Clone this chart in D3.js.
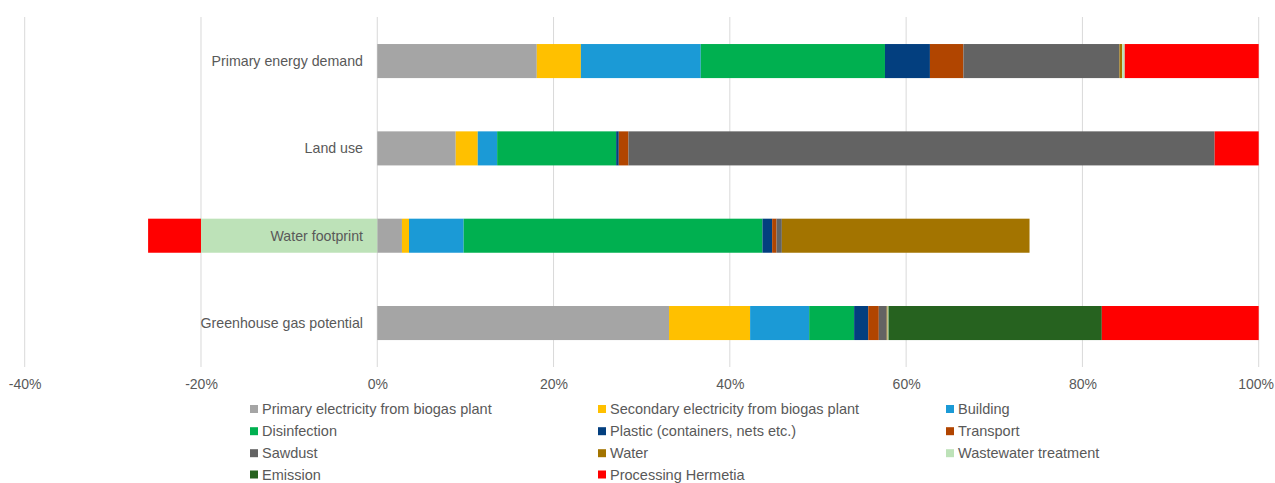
<!DOCTYPE html>
<html><head><meta charset="utf-8">
<script src="https://cdn.jsdelivr.net/npm/d3@7"></script>
<style>body{margin:0;background:#fff;}svg{display:block;font-family:"Liberation Sans",Arial,sans-serif;}</style>
</head><body><svg id="c" width="1275" height="483"></svg>
<script>
const categories = ["Primary energy demand","Land use","Water footprint","Greenhouse gas potential"];
const seriesNames = ["Primary electricity from biogas plant","Secondary electricity from biogas plant","Building","Disinfection","Plastic (containers, nets etc.)","Transport","Sawdust","Water","Wastewater treatment","Emission","Processing Hermetia"];
const seriesColors = ["#a5a5a5","#ffc000","#1b9ad6","#00b050","#033f7f","#b14500","#636363","#a37400","#bde2b8","#26621f","#ff0000"];
// values in % per category (same order as categories)
const primaryElectricity = [18.1, 8.9, 2.8, 33.1];
const secondaryElectricity = [5.0, 2.5, 0.8, 9.2];
const building = [13.6, 2.2, 6.2, 6.7];
const disinfection = [20.9, 13.5, 33.9, 5.1];
const plastic = [5.1, 0.3, 1.1, 1.6];
const transport = [3.8, 1.1, 0.5, 1.2];
const sawdust = [17.7, 66.5, 0.6, 0.9];
const water = [0.3, 0.0, 28.1, 0.1];
const wastewater = [0.3, 0.0, -20.0, 0.1];
const emission = [0.0, 0.0, 0.0, 24.2];
const processing = [15.2, 5.0, -6.0, 17.8];
const tickValues = [-40,-20,0,20,40,60,80,100];

const seriesValues = [primaryElectricity,secondaryElectricity,building,disinfection,plastic,transport,sawdust,water,wastewater,emission,processing];

const svg = d3.select("#c");
const x = d3.scaleLinear().domain([-40,100]).range([24.7,1258.7]);
const y = d3.scaleBand().domain(categories).range([17.4,366.7]).paddingInner(0.61).paddingOuter(0.305);

// gridlines
svg.append("g").selectAll("line").data(tickValues).join("line")
  .attr("x1",d=>x(d)).attr("x2",d=>x(d)).attr("y1",17).attr("y2",367)
  .attr("stroke","#d9d9d9").attr("stroke-width",1);

// stacked bars (positives stack right, negatives stack left)
const segs = [];
categories.forEach((c,ci)=>{
  let pos=0, neg=0;
  seriesValues.forEach((arr,si)=>{
    const v = arr[ci];
    if (v===0) return;
    let a,b;
    if (v>0){a=pos;b=pos+v;pos=b;} else {b=neg;a=neg+v;neg=a;}
    segs.push({c, a, b, color: seriesColors[si]});
  });
});
svg.append("g").selectAll("rect").data(segs).join("rect")
  .attr("x",d=>x(d.a)).attr("width",d=>x(d.b)-x(d.a))
  .attr("y",d=>y(d.c)).attr("height",y.bandwidth())
  .attr("fill",d=>d.color);

// category labels
svg.append("g").selectAll("text").data(categories).join("text")
  .attr("x",363).attr("y",d=>y(d)+y.bandwidth()/2).attr("dy","0.35em")
  .attr("text-anchor","end").attr("font-size",14.2).attr("fill","#595959").text(d=>d);

// x axis labels
const axis = d3.axisBottom(x).tickValues(tickValues).tickFormat(d=>d+"%").tickSize(0).tickPadding(0);
const ag = svg.append("g").attr("transform","translate(0,379)").call(axis);
ag.select(".domain").remove();
ag.selectAll("text").attr("font-size",14).attr("fill","#595959").attr("font-family","Liberation Sans, Arial, sans-serif");
// keep the last label inside the picture
ag.selectAll("text").filter(d=>d===100).attr("text-anchor","end").attr("x",1273.5 - x(100));

// legend
const colX = [250, 598, 946];
const rowY = [409, 431.2, 453.2, 474.5];
const lg = svg.append("g").selectAll("g").data(seriesNames).join("g")
  .attr("transform",(d,i)=>`translate(${colX[i%3]},${rowY[Math.floor(i/3)]})`);
lg.append("rect").attr("x",0).attr("y",-4).attr("width",8).attr("height",8).attr("fill",(d,i)=>seriesColors[i]);
lg.append("text").attr("x",12).attr("y",0).attr("dy","0.35em").attr("font-size",14.5).attr("fill","#595959").text(d=>d);
</script></body></html>
